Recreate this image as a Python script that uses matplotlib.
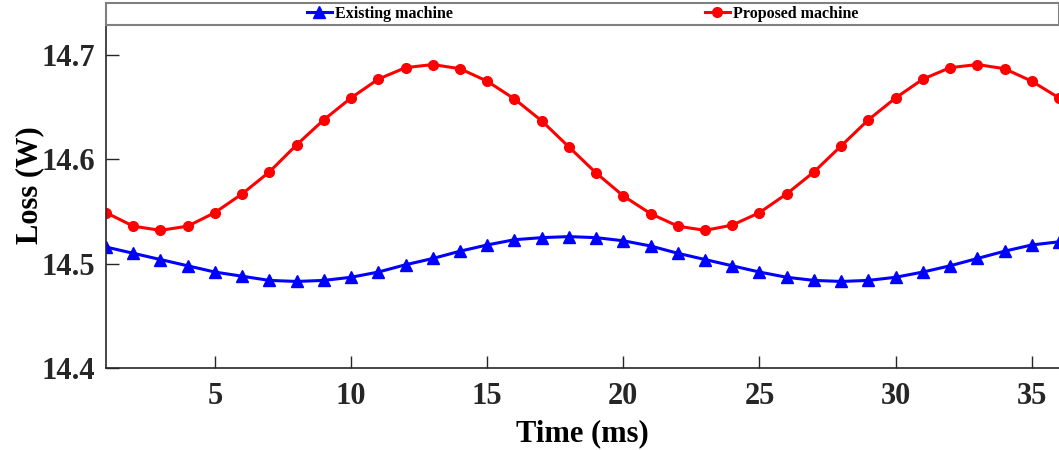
import matplotlib
matplotlib.use("Agg")
import matplotlib.pyplot as plt
from matplotlib.patches import Rectangle

# time axis (ms)
time_ms = list(range(1, 37))

# Existing machine loss (W)
existing = [14.516, 14.510, 14.504, 14.498, 14.492, 14.488, 14.484, 14.483, 14.484, 14.487,
            14.492, 14.499, 14.505, 14.512, 14.518, 14.523, 14.525, 14.526, 14.525, 14.522,
            14.517, 14.510, 14.504, 14.498, 14.492, 14.487, 14.484, 14.483, 14.484, 14.487,
            14.492, 14.498, 14.505, 14.512, 14.518, 14.521]

# Proposed machine loss (W)
proposed = [14.549, 14.536, 14.532, 14.536, 14.549, 14.567, 14.588, 14.614, 14.638, 14.659,
            14.677, 14.688, 14.691, 14.687, 14.675, 14.658, 14.637, 14.612, 14.587, 14.565,
            14.548, 14.536, 14.532, 14.537, 14.549, 14.567, 14.588, 14.613, 14.638, 14.659,
            14.677, 14.688, 14.691, 14.687, 14.675, 14.659]

yticks = [14.4, 14.5, 14.6, 14.7]
xticks = [5, 10, 15, 20, 25, 30, 35]

plt.rcParams['font.family'] = ['Liberation Serif', 'DejaVu Serif']
plt.rcParams['font.weight'] = 'bold'

fig = plt.figure(figsize=(10.59, 4.5), dpi=100)
ax = fig.add_axes([106 / 1059, 82 / 450, 953 / 1059, 365 / 450])

ax.plot(time_ms, existing, color='blue', lw=2.2, marker='^', ms=8, label='Existing machine')
ax.plot(time_ms, proposed, color='red', lw=2.2, marker='o', ms=7, label='Proposed machine')

ax.set_xlim(1, 36)
ax.set_ylim(14.4, 14.75)
ax.set_xticks(xticks)
ax.set_yticks(yticks)
ax.tick_params(direction='in', length=9, width=1, labelsize=22, colors='#262626')
ax.tick_params(axis='x', pad=10)
ax.tick_params(axis='y', pad=8)
for lab in ax.get_xticklabels() + ax.get_yticklabels():
    lab.set_fontweight('bold')
for s in ['top', 'right']:
    ax.spines[s].set_visible(False)
for s in ['left', 'bottom']:
    ax.spines[s].set_color('#262626')
    ax.spines[s].set_linewidth(1.2)

ax.set_xlabel('Time (ms)', fontsize=22, fontweight='bold', labelpad=6)
ax.set_ylabel('Loss (W)', fontsize=22, fontweight='bold', labelpad=-2)

# legend strip across the top
ax.add_patch(Rectangle((0, 0.9397), 1.0, 0.0603, transform=ax.transAxes, fill=True,
                       facecolor='white', edgecolor='#808080', lw=1.5, zorder=5, clip_on=False))
leg = ax.legend(loc='center', bbox_to_anchor=(0.5, 0.97), ncol=2, frameon=False,
                handlelength=1.55, handletextpad=0.2, columnspacing=15.8,
                markerscale=1.0, prop={'weight': 'bold', 'size': 11.5})
leg.set_zorder(6)

fig.savefig('out.png', dpi=100)
